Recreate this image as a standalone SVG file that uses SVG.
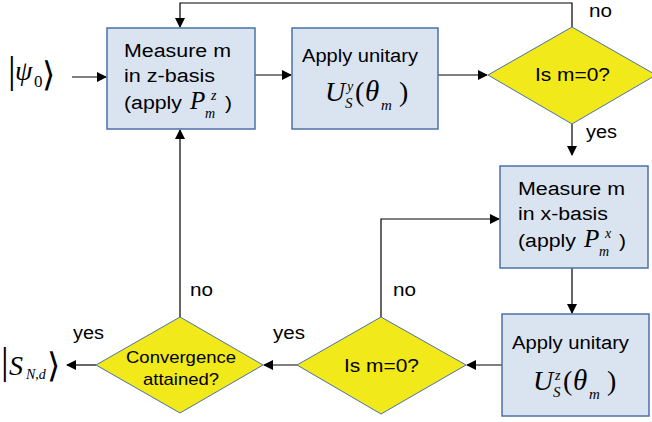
<svg xmlns="http://www.w3.org/2000/svg" width="652" height="422" viewBox="0 0 652 422">
<style>
.box{fill:#dae4f1;stroke:#4b72a8;stroke-width:1.5}
.dia{fill:#f1e91a;stroke:#4b72a8;stroke-width:1}
.ln{fill:none;stroke:#000;stroke-width:1.2}
.t{font-family:"Liberation Sans",Arial,sans-serif;font-size:18px;fill:#000}
.ts{font-family:"Liberation Sans",Arial,sans-serif;font-size:17px;fill:#000}
.m{font-family:"Liberation Serif","Times New Roman",serif;font-style:italic;fill:#000}
.mr{font-family:"Liberation Serif","Times New Roman",serif;fill:#000}
.d{font-family:"DejaVu Sans",sans-serif;font-weight:200;fill:#000}
</style>
<defs>
<marker id="ah" markerWidth="10" markerHeight="10" refX="9" refY="5" orient="auto" markerUnits="userSpaceOnUse">
<path d="M0,0 L10,5 L0,10 z" fill="#000"/>
</marker>
</defs>
<g id="connectors">
<path class="ln" d="M72,77 L106,77" marker-end="url(#ah)"/>
<path class="ln" d="M255,75 L291,75" marker-end="url(#ah)"/>
<path class="ln" d="M438,75 L487,75" marker-end="url(#ah)"/>
<path class="ln" d="M572,27 L572,3 L180,3 L180,27" marker-end="url(#ah)"/>
<path class="ln" d="M572,124 L572,155" marker-end="url(#ah)"/>
<path class="ln" d="M572,268 L572,313" marker-end="url(#ah)"/>
<path class="ln" d="M502,365 L467,365" marker-end="url(#ah)"/>
<path class="ln" d="M381,317 L381,219 L499,219" marker-end="url(#ah)"/>
<path class="ln" d="M297,365 L264,365" marker-end="url(#ah)"/>
<path class="ln" d="M96,365 L67,365" marker-end="url(#ah)"/>
<path class="ln" d="M180,317 L180,130" marker-end="url(#ah)"/>
<text class="t" x="589" y="17" textLength="23" lengthAdjust="spacingAndGlyphs">no</text>
<text class="t" x="586" y="138" textLength="31" lengthAdjust="spacingAndGlyphs">yes</text>
<text class="t" x="393" y="296" textLength="23" lengthAdjust="spacingAndGlyphs">no</text>
<text class="t" x="190" y="296" textLength="23" lengthAdjust="spacingAndGlyphs">no</text>
<text class="t" x="273" y="339" textLength="32" lengthAdjust="spacingAndGlyphs">yes</text>
<text class="t" x="73" y="339" textLength="31" lengthAdjust="spacingAndGlyphs">yes</text>
</g>
<g id="psi0">
<text class="mr" x="8" y="83" font-size="38">|</text>
<text class="m" x="15" y="80" font-size="28">ψ</text>
<text class="mr" x="34" y="87" font-size="17">0</text>
<text class="d" x="42" y="86" font-size="34">⟩</text>
</g>
<g id="box1">
<rect class="box" x="107" y="28" width="148" height="101"/>
<text class="t" x="124" y="57" textLength="107" lengthAdjust="spacingAndGlyphs">Measure m</text>
<text class="t" x="124" y="82" textLength="91" lengthAdjust="spacingAndGlyphs">in z-basis</text>
<text class="t" x="124" y="109" textLength="58" lengthAdjust="spacingAndGlyphs">(apply</text>
<text class="m" x="190" y="109" font-size="25">P</text>
<text class="m" x="211" y="100" font-size="14">z</text>
<text class="m" x="205" y="118" font-size="14">m</text>
<text class="t" x="225" y="109" textLength="7" lengthAdjust="spacingAndGlyphs">)</text>
</g>
<g id="box2">
<rect class="box" x="292" y="28" width="146" height="101"/>
<text class="t" x="302" y="62" textLength="116" lengthAdjust="spacingAndGlyphs">Apply unitary</text>
<text class="m" x="325" y="101" font-size="28">U</text>
<text class="m" x="347" y="91" font-size="14">y</text>
<text class="m" x="345" y="108" font-size="15">S</text>
<text class="mr" x="355" y="101" font-size="28">(</text>
<text class="m" x="365" y="101" font-size="29">θ</text>
<text class="m" x="381" y="110" font-size="15">m</text>
<text class="mr" x="399" y="101" font-size="28">)</text>
</g>
<g id="dec1">
<polygon class="dia" points="488,75 572,27 656,75 572,124"/>
<text class="t" x="535" y="81" textLength="75" lengthAdjust="spacingAndGlyphs">Is m=0?</text>
</g>
<g id="box3">
<rect class="box" x="500" y="166" width="148" height="102"/>
<text class="t" x="518" y="195" textLength="107" lengthAdjust="spacingAndGlyphs">Measure m</text>
<text class="t" x="518" y="220" textLength="90" lengthAdjust="spacingAndGlyphs">in x-basis</text>
<text class="t" x="518" y="247" textLength="58" lengthAdjust="spacingAndGlyphs">(apply</text>
<text class="m" x="584" y="247" font-size="25">P</text>
<text class="m" x="605" y="238" font-size="14">x</text>
<text class="m" x="599" y="256" font-size="14">m</text>
<text class="t" x="619" y="247" textLength="7" lengthAdjust="spacingAndGlyphs">)</text>
</g>
<g id="box4">
<rect class="box" x="502" y="314" width="147" height="102"/>
<text class="t" x="512" y="349" textLength="117" lengthAdjust="spacingAndGlyphs">Apply unitary</text>
<text class="m" x="533" y="390" font-size="28">U</text>
<text class="m" x="555" y="380" font-size="14">z</text>
<text class="m" x="553" y="397" font-size="15">S</text>
<text class="mr" x="563" y="390" font-size="28">(</text>
<text class="m" x="573" y="390" font-size="29">θ</text>
<text class="m" x="589" y="399" font-size="15">m</text>
<text class="mr" x="607" y="390" font-size="28">)</text>
</g>
<g id="dec2">
<polygon class="dia" points="297,365 381,317 466,365 381,414"/>
<text class="t" x="344" y="372" textLength="75" lengthAdjust="spacingAndGlyphs">Is m=0?</text>
</g>
<g id="dec3">
<polygon class="dia" points="96,365 180,317 263,365 180,413"/>
<text class="ts" x="126" y="363" textLength="110" lengthAdjust="spacingAndGlyphs">Convergence</text>
<text class="ts" x="143" y="385" textLength="76" lengthAdjust="spacingAndGlyphs">attained?</text>
</g>
<g id="sout">
<text class="mr" x="1" y="374" font-size="38">|</text>
<text class="m" x="9" y="375" font-size="28">S</text>
<text class="m" x="26" y="379" font-size="14">N,d</text>
<text class="d" x="47" y="377" font-size="34">⟩</text>
</g>
</svg>
